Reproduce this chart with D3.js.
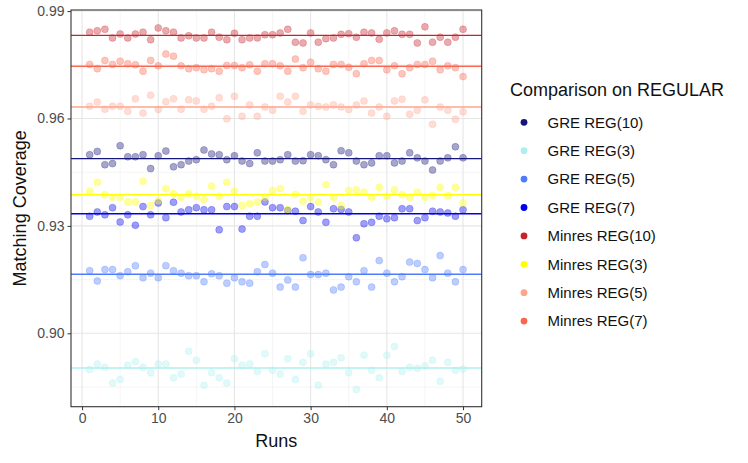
<!DOCTYPE html>
<meta charset="utf-8">
<style>
  body { margin: 0; background: #fff; }
  text { font-family: "Liberation Sans", Arial, sans-serif; }
  .tick text { fill: #4d4d4d; font-size: 14px; }
  .tick line { stroke: #333; }
  .domain { display: none; }
</style>
<svg width="748" height="463"></svg>
<script src="https://cdn.jsdelivr.net/npm/d3@7"></script>
<script>

var runs = [1,2,3,4,5,6,7,8,9,10,11,12,13,14,15,16,17,18,19,20,21,22,23,24,25,
            26,27,28,29,30,31,32,33,34,35,36,37,38,39,40,41,42,43,44,45,46,47,48,49,50];

var seriesNames = ["GRE REG(10)", "GRE REG(3)", "GRE REG(5)", "GRE REG(7)",
                   "Minres REG(10)", "Minres REG(3)", "Minres REG(5)", "Minres REG(7)"];
var seriesColors = ["#15157a", "#aeeeee", "#4f7bff", "#0000f0",
                    "#c8232b", "#ffff00", "#ffa58e", "#fa6650"];

// mean line per series
var meanValues = [0.9488, 0.8903, 0.9165, 0.9334, 0.9832, 0.9387, 0.9632, 0.9746];

var gre10 = [0.9499,0.9508,0.9471,0.9474,0.9524,0.9493,0.9493,0.9499,0.9460,0.9496,
             0.9509,0.9465,0.9471,0.9481,0.9485,0.9512,0.9501,0.9499,0.9485,0.9496,
             0.9481,0.9474,0.9504,0.9481,0.9481,0.9485,0.9499,0.9481,0.9482,0.9499,
             0.9496,0.9485,0.9471,0.9510,0.9504,0.9481,0.9471,0.9476,0.9496,0.9496,
             0.9476,0.9481,0.9504,0.9490,0.9481,0.9456,0.9481,0.9490,0.9521,0.9490];
var gre3 = [0.8899,0.8914,0.8905,0.8861,0.8871,0.8911,0.8921,0.8905,0.8890,0.8914,
            0.8914,0.8876,0.8886,0.8950,0.8925,0.8855,0.8890,0.8876,0.8861,0.8929,
            0.8911,0.8914,0.8893,0.8943,0.8897,0.8886,0.8929,0.8871,0.8919,0.8943,
            0.8855,0.8914,0.8919,0.8932,0.8890,0.8843,0.8939,0.8897,0.8876,0.8939,
            0.8963,0.8893,0.8905,0.8902,0.8909,0.8925,0.8866,0.8919,0.8897,0.8900];
var gre5 = [0.9175,0.9146,0.9178,0.9178,0.9161,0.9172,0.9189,0.9155,0.9168,0.9155,
            0.9189,0.9175,0.9168,0.9161,0.9161,0.9144,0.9166,0.9161,0.9140,0.9155,
            0.9144,0.9140,0.9172,0.9192,0.9168,0.9129,0.9149,0.9129,0.9211,0.9164,
            0.9164,0.9168,0.9121,0.9129,0.9158,0.9144,0.9175,0.9129,0.9203,0.9168,
            0.9144,0.9158,0.9199,0.9195,0.9178,0.9155,0.9217,0.9168,0.9144,0.9178];
var gre7 = [0.9327,0.9339,0.9331,0.9351,0.9311,0.9331,0.9302,0.9354,0.9331,0.9364,
            0.9323,0.9366,0.9339,0.9345,0.9351,0.9345,0.9345,0.9289,0.9354,0.9354,
            0.9291,0.9327,0.9327,0.9367,0.9351,0.9351,0.9343,0.9341,0.9315,0.9354,
            0.9339,0.9310,0.9348,0.9346,0.9339,0.9267,0.9306,0.9310,0.9327,0.9320,
            0.9323,0.9348,0.9348,0.9315,0.9323,0.9341,0.9339,0.9336,0.9327,0.9345];
var minres10 = [0.9841,0.9845,0.9849,0.9825,0.9836,0.9825,0.9836,0.9841,0.9820,0.9853,
                0.9845,0.9841,0.9825,0.9831,0.9825,0.9825,0.9841,0.9827,0.9820,0.9838,
                0.9820,0.9825,0.9825,0.9834,0.9834,0.9839,0.9849,0.9813,0.9811,0.9839,
                0.9813,0.9823,0.9825,0.9835,0.9837,0.9827,0.9841,0.9839,0.9821,0.9839,
                0.9845,0.9835,0.9835,0.9811,0.9856,0.9813,0.9827,0.9813,0.9827,0.9849];
var minres3 = [0.9397,0.9422,0.9387,0.9380,0.9380,0.9367,0.9367,0.9425,0.9357,0.9371,
               0.9404,0.9390,0.9380,0.9390,0.9383,0.9374,0.9411,0.9383,0.9422,0.9397,
               0.9357,0.9362,0.9367,0.9380,0.9399,0.9404,0.9346,0.9388,0.9369,0.9380,
               0.9367,0.9415,0.9380,0.9357,0.9399,0.9401,0.9394,0.9380,0.9408,0.9383,
               0.9401,0.9387,0.9380,0.9394,0.9380,0.9385,0.9408,0.9385,0.9408,0.9364];
var minres5 = [0.9634,0.9646,0.9626,0.9634,0.9634,0.9620,0.9655,0.9615,0.9665,0.9625,
               0.9647,0.9655,0.9626,0.9652,0.9649,0.9626,0.9634,0.9658,0.9599,0.9662,
               0.9606,0.9638,0.9606,0.9632,0.9623,0.9662,0.9646,0.9662,0.9620,0.9638,
               0.9634,0.9632,0.9638,0.9632,0.9625,0.9638,0.9649,0.9615,0.9632,0.9606,
               0.9649,0.9654,0.9612,0.9623,0.9652,0.9584,0.9632,0.9623,0.9598,0.9619];
var minres7 = [0.9751,0.9739,0.9762,0.9751,0.9760,0.9753,0.9750,0.9732,0.9762,0.9747,
               0.9780,0.9774,0.9747,0.9739,0.9742,0.9736,0.9739,0.9732,0.9748,0.9748,
               0.9742,0.9750,0.9732,0.9753,0.9753,0.9747,0.9732,0.9766,0.9742,0.9757,
               0.9739,0.9732,0.9751,0.9751,0.9743,0.9725,0.9753,0.9762,0.9762,0.9736,
               0.9747,0.9725,0.9742,0.9751,0.9751,0.9760,0.9736,0.9747,0.9742,0.9717];

var seriesValues = [gre10, gre3, gre5, gre7, minres10, minres3, minres5, minres7];

var xTicks = [0, 10, 20, 30, 40, 50];
var yTicks = [0.90, 0.93, 0.96, 0.99];

var svg = d3.select("svg");
var pLeft = 71, pRight = 481.7, pTop = 10, pBottom = 406.7;

var x = d3.scaleLinear().domain([-1.45, 52.45]).range([pLeft, pRight]);
var y = d3.scaleLinear().domain([0.8795, 0.9903]).range([pBottom, pTop]);

// gridlines (minor first, then major)
var grid = svg.append("g");
var xMinor = [5, 15, 25, 35, 45], yMinor = [0.885, 0.915, 0.945, 0.975];
grid.selectAll(".xm").data(xMinor).enter().append("line")
    .attr("x1", d => x(d)).attr("x2", d => x(d)).attr("y1", pTop).attr("y2", pBottom)
    .attr("stroke", "#f2f2f2").attr("stroke-width", 0.8);
grid.selectAll(".ym").data(yMinor).enter().append("line")
    .attr("x1", pLeft).attr("x2", pRight).attr("y1", d => y(d)).attr("y2", d => y(d))
    .attr("stroke", "#f2f2f2").attr("stroke-width", 0.8);
grid.selectAll(".xM").data(xTicks).enter().append("line")
    .attr("x1", d => x(d)).attr("x2", d => x(d)).attr("y1", pTop).attr("y2", pBottom)
    .attr("stroke", "#e6e6e6").attr("stroke-width", 1.1);
grid.selectAll(".yM").data(yTicks).enter().append("line")
    .attr("x1", pLeft).attr("x2", pRight).attr("y1", d => y(d)).attr("y2", d => y(d))
    .attr("stroke", "#e6e6e6").attr("stroke-width", 1.1);

// points
var pts = svg.append("g");
seriesValues.forEach(function(vals, s) {
  pts.append("g").selectAll("circle")
    .data(vals).enter().append("circle")
      .attr("cx", (d, i) => x(runs[i]))
      .attr("cy", d => y(d))
      .attr("r", 3.5)
      .attr("fill", seriesColors[s]).attr("fill-opacity", 0.38)
      .attr("stroke", seriesColors[s]).attr("stroke-opacity", 0.3).attr("stroke-width", 0.8);
});

// mean lines
svg.append("g").selectAll("line")
  .data(meanValues).enter().append("line")
    .attr("x1", pLeft).attr("x2", pRight)
    .attr("y1", d => y(d)).attr("y2", d => y(d))
    .attr("stroke", (d, i) => seriesColors[i])
    .attr("stroke-width", 1.4);

// panel border
svg.append("rect").attr("x", pLeft).attr("y", pTop)
    .attr("width", pRight - pLeft).attr("height", pBottom - pTop)
    .attr("fill", "none").attr("stroke", "#333").attr("stroke-width", 1.1);

// axes
svg.append("g").attr("transform", "translate(0," + pBottom + ")")
    .call(d3.axisBottom(x).tickValues(xTicks).tickSize(3.5).tickPadding(3).tickFormat(d3.format("d")));
svg.append("g").attr("transform", "translate(" + pLeft + ",0)")
    .call(d3.axisLeft(y).tickValues(yTicks).tickSize(3.5).tickPadding(3).tickFormat(d3.format(".2f")));

svg.append("text").attr("x", (pLeft + pRight) / 2).attr("y", 447)
    .attr("text-anchor", "middle").style("font-size", "18px").attr("fill", "#111")
    .text("Runs");
svg.append("text").attr("transform", "translate(26," + ((pTop + pBottom) / 2) + ") rotate(-90)")
    .attr("text-anchor", "middle").style("font-size", "18px").attr("fill", "#111")
    .text("Matching Coverage");

// legend
var lg = svg.append("g").attr("transform", "translate(510,0)");
lg.append("text").attr("x", 0).attr("y", 96).style("font-size", "18px").attr("fill", "#111")
    .text("Comparison on REGULAR");
var items = lg.selectAll(".item").data(seriesNames).enter().append("g")
    .attr("transform", (d, i) => "translate(0," + (122.3 + i * 28.4) + ")");
items.append("circle").attr("cx", 14).attr("cy", 0).attr("r", 3.4)
    .attr("fill", (d, i) => seriesColors[i]);
items.append("text").attr("x", 37.5).attr("y", 5.3).style("font-size", "15px").attr("fill", "#111")
    .text(d => d);

</script>
